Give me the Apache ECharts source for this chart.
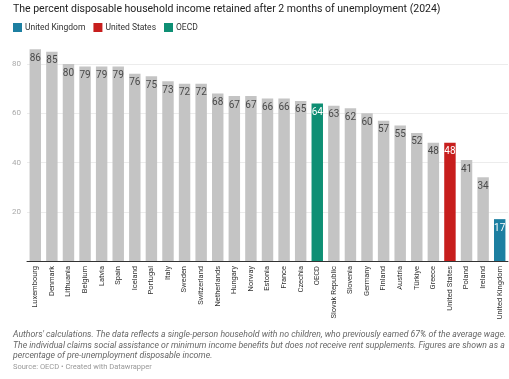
<!DOCTYPE html>
<html><head><meta charset="utf-8">
<script src="https://cdn.jsdelivr.net/npm/echarts@6/dist/echarts.min.js"></script>
<style>html,body{margin:0;padding:0;background:#fff}#c{width:509px;height:379px}</style>
</head><body><div id="c"></div>
<script>
const categories = ['Luxembourg','Denmark','Lithuania','Belgium','Latvia','Spain','Iceland','Portugal','Italy','Sweden','Switzerland','Netherlands','Hungary','Norway','Estonia','France','Czechia','OECD','Slovak Republic','Slovenia','Germany','Finland','Austria','Türkiye','Greece','United States','Poland','Ireland','United Kingdom'];
const values = [86,85,80,79,79,79,76,75,73,72,72,68,67,67,66,66,65,64,63,62,60,57,55,52,48,48,41,34,17];
const highlights = {'United Kingdom':'#1d7fa1','United States':'#c71e1d','OECD':'#0e8f74'};
const yTicks = [20,40,60,80];
const titleText = 'The percent disposable household income retained after 2 months of unemployment (2024)';
const noteLines = ["Authors' calculations. The data reflects a single-person household with no children, who previously earned 67% of the average wage.",
"The individual claims social assistance or minimum income benefits but does not receive rent supplements. Figures are shown as a",
"percentage of pre-unemployment disposable income."];
const sourceText = 'Source: OECD • Created with Datawrapper';

const FONT = 'Roboto';
const chart = echarts.init(document.getElementById('c'));
const labelCommon = {show:true, position:'insideTop', distance:4, fontSize:10, fontFamily:FONT};
const series = [{
  name:'Other', type:'bar', barCategoryGap:'31%', barGap:'-100%', clip:false,
  data: values.map((v,i)=> highlights[categories[i]] ? null : v),
  itemStyle:{color:'#c4c4c4'},
  label:Object.assign({color:'#4a4a4a'}, labelCommon),
  silent:true
}];
Object.keys(highlights).forEach(name=>{
  series.push({
    name, type:'bar', barCategoryGap:'31%', barGap:'-100%', clip:false,
    data: values.map((v,i)=> categories[i]===name ? v : null),
    itemStyle:{color:highlights[name]},
    label:Object.assign({color:'#fff'}, labelCommon),
    silent:true
  });
});
chart.setOption({
  animation:false,
  textStyle:{fontFamily:FONT},
  title:{text:titleText, left:13, top:4, padding:0, textStyle:{fontSize:10.5, fontWeight:'normal', color:'#222', fontFamily:FONT}},
  legend:{data:Object.keys(highlights), left:13, top:23, padding:0, icon:'rect', itemWidth:9, itemHeight:9, itemGap:8,
    selectedMode:false, textStyle:{fontSize:8.5, color:'#333', fontFamily:FONT, padding:[0,0,0,-2]}},
  grid:{left:27, right:1, top:64, bottom:118},
  xAxis:{type:'category', data:categories,
    axisLine:{lineStyle:{color:'#333', width:1}}, axisTick:{show:false},
    axisLabel:{rotate:90, fontSize:7.5, color:'#333', margin:5, interval:0, fontFamily:FONT}},
  yAxis:{type:'value', min:0, max:80, interval:20,
    axisLine:{show:false}, axisTick:{show:false},
    splitLine:{lineStyle:{color:'#ececec', width:1}},
    axisLabel:{fontSize:8, color:'#aaa', margin:6, fontFamily:FONT,
      formatter:v=> yTicks.includes(v) ? String(v) : ''}},
  series,
  graphic:[
    {type:'text', left:13, top:330, style:{text:noteLines.join('\n'), fontSize:8.7, fontStyle:'italic', fill:'#666', lineHeight:10.3, fontFamily:FONT}},
    {type:'text', left:13, top:363, style:{text:sourceText, fontSize:7.5, fill:'#999', fontFamily:FONT}}
  ]
});
</script></body></html>
